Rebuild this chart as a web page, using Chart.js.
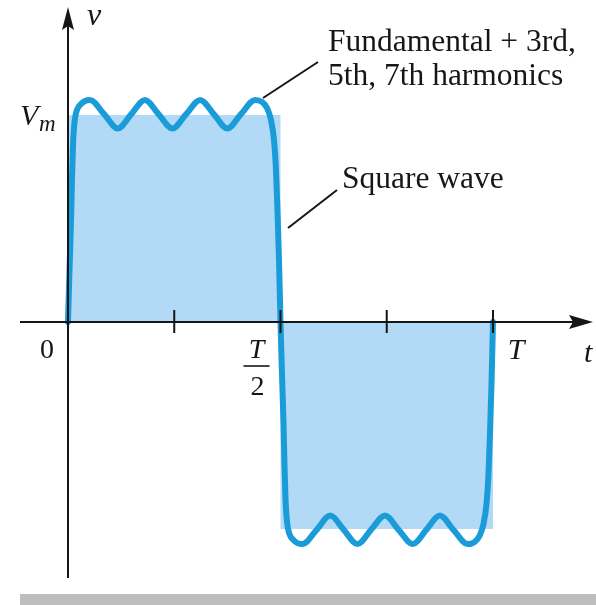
<!DOCTYPE html>
<html>
<head>
<meta charset="utf-8">
<script src="https://cdn.jsdelivr.net/npm/chart.js@4/dist/chart.umd.min.js"></script>
<style>
  body { margin: 0; background: #fff; }
  #wrap { position: relative; width: 596px; height: 605px; }
  #bar { position: absolute; left: 20px; top: 594px; width: 576px; height: 11px; background: #bebebe; }
</style>
</head>
<body>
<div id="wrap">
  <canvas id="chart" width="596" height="605"></canvas>
  <div id="bar"></div>
</div>
<script>
// time in units of T, voltage in units of Vm
const harmonicT = [
  0, 0.0035, 0.0071, 0.0094, 0.0118, 0.0153, 0.0212, 0.0306, 0.04, 0.052,
  0.085, 0.117, 0.149, 0.181, 0.213, 0.246, 0.278, 0.311, 0.343, 0.375, 0.407, 0.44,
  0.4565, 0.4682, 0.4776, 0.4847, 0.4894, 0.4929, 0.4965, 0.5,
  0.5035, 0.5071, 0.5094, 0.5118, 0.5153, 0.5212, 0.5306, 0.54, 0.552,
  0.585, 0.617, 0.649, 0.681, 0.713, 0.746, 0.778, 0.811, 0.843, 0.875, 0.907, 0.94,
  0.9565, 0.9682, 0.9776, 0.9847, 0.9894, 0.9929, 0.9965, 1
];
const harmonicV = [
  0, 0.25, 0.49, 0.69, 0.855, 0.965, 1.025, 1.053, 1.068, 1.073,
  1.004, 0.935, 1.004, 1.073, 1.004, 0.935, 1.004, 1.073, 1.004, 0.935, 1.004, 1.073,
  1.063, 1.034, 0.976, 0.879, 0.734, 0.541, 0.3, 0,
  -0.25, -0.49, -0.69, -0.855, -0.965, -1.025, -1.053, -1.068, -1.073,
  -1.004, -0.935, -1.004, -1.073, -1.004, -0.935, -1.004, -1.073, -1.004, -0.935, -1.004, -1.073,
  -1.063, -1.034, -0.976, -0.879, -0.734, -0.541, -0.3, 0
];
const squareT = [0, 0, 0.5, 0.5, 1, 1];
const squareV = [0, 1, 1, -1, -1, 0];
const tickT = [0.25, 0.5, 0.75, 1];

const INK = '#161616';
const SERIF = '"Liberation Serif", "DejaVu Serif", serif';

const toPoints = (xs, ys) => xs.map((x, i) => ({ x: x, y: ys[i] }));

const axesPlugin = {
  id: 'axes',
  afterDatasetsDraw(chart) {
    const ctx = chart.ctx;
    const xs = chart.scales.x, ys = chart.scales.y;
    const x0 = xs.getPixelForValue(0);
    const y0 = ys.getPixelForValue(0);

    ctx.save();
    ctx.strokeStyle = INK;
    ctx.fillStyle = INK;
    ctx.lineWidth = 2;

    // t axis
    ctx.beginPath();
    ctx.moveTo(20, y0);
    ctx.lineTo(575, y0);
    ctx.stroke();
    ctx.beginPath();
    ctx.moveTo(593, y0);
    ctx.lineTo(569, y0 - 7);
    ctx.lineTo(573, y0);
    ctx.lineTo(569, y0 + 7);
    ctx.closePath();
    ctx.fill();

    // v axis
    ctx.beginPath();
    ctx.moveTo(x0, 578);
    ctx.lineTo(x0, 24);
    ctx.stroke();
    ctx.beginPath();
    ctx.moveTo(x0, 7);
    ctx.lineTo(x0 - 6, 30);
    ctx.lineTo(x0, 26);
    ctx.lineTo(x0 + 6, 30);
    ctx.closePath();
    ctx.fill();

    // ticks
    tickT.forEach(t => {
      const x = xs.getPixelForValue(t);
      ctx.beginPath();
      ctx.moveTo(x, y0 - 12);
      ctx.lineTo(x, y0 + 11);
      ctx.stroke();
    });

    // tick labels
    ctx.textBaseline = 'alphabetic';
    ctx.textAlign = 'center';
    ctx.font = '28px ' + SERIF;
    ctx.fillText('0', x0 - 21, y0 + 36);
    const xh = xs.getPixelForValue(0.5);
    ctx.font = 'italic 28px ' + SERIF;
    ctx.fillText('T', xh - 24, y0 + 36);
    ctx.font = '28px ' + SERIF;
    ctx.fillText('2', xh - 23, y0 + 73);
    ctx.lineWidth = 1.6;
    ctx.beginPath();
    ctx.moveTo(xh - 37, y0 + 44);
    ctx.lineTo(xh - 11, y0 + 44);
    ctx.stroke();
    const xT = xs.getPixelForValue(1);
    ctx.font = 'italic 30px ' + SERIF;
    ctx.fillText('T', xT + 23, y0 + 37);
    ctx.textAlign = 'left';
    ctx.fillText('t', 584, y0 + 40);
    ctx.font = 'italic 32px ' + SERIF;
    ctx.fillText('v', 87, 25);

    // Vm label
    const yV = ys.getPixelForValue(1);
    ctx.font = 'italic 30px ' + SERIF;
    ctx.fillText('V', 20, yV + 10);
    ctx.font = 'italic 23px ' + SERIF;
    ctx.fillText('m', 39, yV + 16);

    // annotations
    ctx.font = '31.5px ' + SERIF;
    ctx.fillText('Fundamental + 3rd,', 328, 51);
    ctx.fillText('5th, 7th harmonics', 328, 85);
    ctx.fillText('Square wave', 342, 188);
    ctx.lineWidth = 2;
    ctx.beginPath();
    ctx.moveTo(263, 98);
    ctx.lineTo(318, 62);
    ctx.moveTo(288, 228);
    ctx.lineTo(337, 190);
    ctx.stroke();
    ctx.restore();
  }
};

new Chart(document.getElementById('chart').getContext('2d'), {
  type: 'line',
  data: {
    datasets: [
      {
        label: 'Fundamental + 3rd, 5th, 7th harmonics',
        data: toPoints(harmonicT, harmonicV),
        borderColor: '#1a9cd9',
        borderWidth: 6,
        borderCapStyle: 'round',
        borderJoinStyle: 'round',
        cubicInterpolationMode: 'monotone',
        pointRadius: 0,
        fill: false
      },
      {
        label: 'Square wave',
        data: toPoints(squareT, squareV),
        borderWidth: 0,
        backgroundColor: '#b2d9f6',
        pointRadius: 0,
        tension: 0,
        fill: 'origin'
      }
    ]
  },
  options: {
    responsive: false,
    animation: false,
    layout: { padding: 0 },
    plugins: { legend: { display: false }, tooltip: { enabled: false } },
    scales: {
      x: { type: 'linear', display: false, min: -0.16, max: 1.2424 },
      y: { type: 'linear', display: false, min: -1.3671, max: 1.5556 }
    }
  },
  plugins: [axesPlugin]
});
</script>
</body>
</html>
